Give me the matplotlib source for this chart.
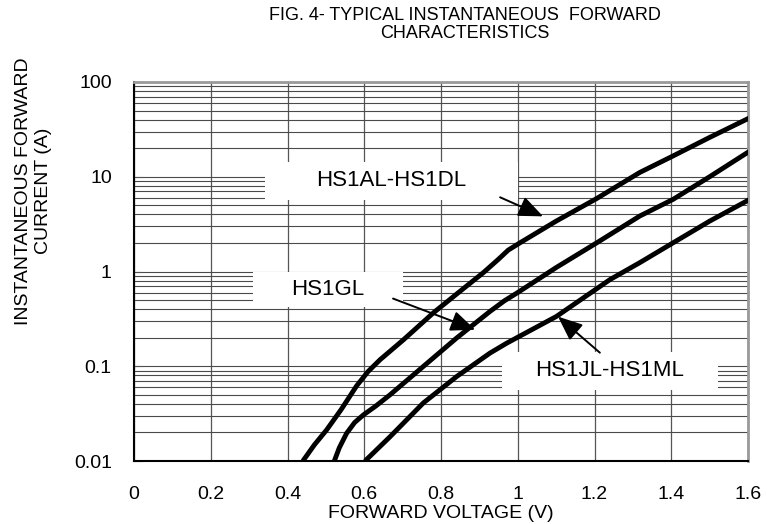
import numpy as np
import matplotlib
matplotlib.use("Agg")
import matplotlib.pyplot as plt
from matplotlib.patches import Rectangle

plt.rcParams['font.family'] = ['Liberation Sans', 'DejaVu Sans']

# ---- data ----
va_a = [0.44, 0.47, 0.502, 0.54, 0.58, 0.61, 0.641, 0.702, 0.78, 0.85, 0.91, 0.95, 0.975, 1.006, 1.1, 1.206, 1.318, 1.405, 1.5, 1.605]
ia_a = [0.01, 0.0148, 0.0213, 0.035, 0.062, 0.088, 0.117, 0.19, 0.366, 0.62, 0.97, 1.35, 1.68, 2.01, 3.4, 5.9, 11.1, 16.6, 26.0, 42.0]

va_b = [0.522, 0.535, 0.554, 0.575, 0.598, 0.63, 0.667, 0.754, 0.841, 0.928, 0.965, 1.0, 1.1, 1.206, 1.318, 1.405, 1.5, 1.605]
ia_b = [0.01, 0.0138, 0.0196, 0.0255, 0.0307, 0.038, 0.0499, 0.0996, 0.199, 0.38, 0.49, 0.6, 1.1, 2.01, 3.85, 5.78, 10.0, 18.7]

va_c = [0.602, 0.667, 0.754, 0.841, 0.928, 0.971, 1.101, 1.24, 1.318, 1.405, 1.5, 1.605]
ia_c = [0.01, 0.018, 0.041, 0.078, 0.138, 0.175, 0.336, 0.82, 1.24, 2.01, 3.4, 5.78]

x_ticks = [0, 0.2, 0.4, 0.6, 0.8, 1.0, 1.2, 1.4, 1.6]
x_ticklabels = ["0", "0.2", "0.4", "0.6", "0.8", "1", "1.2", "1.4", "1.6"]
y_ticks = [0.01, 0.1, 1, 10, 100]
y_ticklabels = ["0.01", "0.1", "1", "10", "100"]

labels = ["HS1AL-HS1DL", "HS1GL", "HS1JL-HS1ML"]
# arrow tail / tip in data units
arrow_tail = [(0.954, 6.07), (0.675, 0.518), (1.214, 0.139)]
arrow_tip = [(1.066, 3.82), (0.889, 0.243), (1.105, 0.334)]
# white label boxes in axes fraction (x0, y0, w, h)
boxes = [(0.213, 0.689, 0.412, 0.100), (0.194, 0.406, 0.244, 0.093), (0.599, 0.187, 0.352, 0.101)]

fig = plt.figure(figsize=(7.67, 5.24), dpi=100)
ax = fig.add_axes([134/767, 1-461/524, 614/767, 379/524])
ax.set_yscale('log')
ax.set_xlim(0, 1.6)
ax.set_ylim(0.01, 100)

ax.set_xticks(x_ticks)
ax.set_xticklabels(x_ticklabels, fontsize=14)
ax.set_yticks(y_ticks)
ax.set_yticklabels(y_ticklabels, fontsize=14)
ax.yaxis.set_minor_locator(matplotlib.ticker.LogLocator(base=10, subs=np.arange(2, 10)))
ax.yaxis.set_minor_formatter(matplotlib.ticker.NullFormatter())
ax.grid(True, which='both', axis='y', color='#4a4a4a', lw=0.8, zorder=0)
ax.grid(True, which='major', axis='x', color='#555555', lw=0.9, zorder=0)
ax.tick_params(axis='x', length=0, pad=18)
ax.tick_params(axis='y', which='major', direction='in', length=6, color='#555555', pad=16)
ax.tick_params(axis='y', which='minor', length=0)
ax.set_axisbelow(True)

for s in ['top', 'right']:
    ax.spines[s].set_color('#9a9a9a')
    ax.spines[s].set_linewidth(2)
for s in ['left', 'bottom']:
    ax.spines[s].set_color('black')
    ax.spines[s].set_linewidth(1.5)

# white label boxes
for (x0, y0, w, h), lab in zip(boxes, labels):
    ax.add_patch(Rectangle((x0, y0), w, h, transform=ax.transAxes, facecolor='white',
                           edgecolor='none', zorder=1.5))
    ax.text(x0 + w/2, y0 + h/2, lab, transform=ax.transAxes, ha='center', va='center',
            fontsize=16, zorder=4)

# curves
for v, i in [(va_a, ia_a), (va_b, ia_b), (va_c, ia_c)]:
    ax.plot(v, i, color='black', lw=3.5, solid_capstyle='butt', solid_joinstyle='round',
            zorder=3)

# arrows
for t, p in zip(arrow_tail, arrow_tip):
    ax.annotate('', xy=p, xytext=t,
                arrowprops=dict(arrowstyle='-|>,head_length=1.0,head_width=0.42',
                                mutation_scale=15, color='black', lw=1.4,
                                shrinkA=0, shrinkB=0), zorder=4)

fig.text(465/767, 1-15/524, "FIG. 4- TYPICAL INSTANTANEOUS  FORWARD", ha='center', va='center',
         fontsize=13)
fig.text(465/767, 1-33/524, "CHARACTERISTICS", ha='center', va='center', fontsize=13)
fig.text(441/767, 1-514/524, "FORWARD VOLTAGE (V)", ha='center', va='center', fontsize=14)
fig.text(24/767, 1-191/524, "INSTANTANEOUS FORWARD", ha='center', va='center',
         rotation=90, fontsize=14)
fig.text(44/767, 1-191/524, "CURRENT (A)", ha='center', va='center',
         rotation=90, fontsize=14)

fig.savefig("out.png", dpi=100)
